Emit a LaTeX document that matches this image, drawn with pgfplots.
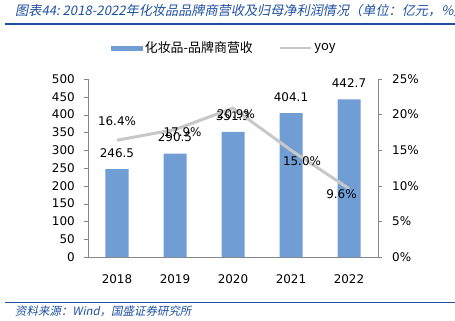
\documentclass[border=0pt]{standalone}
\usepackage{pgfplots}
\pgfplotsset{compat=1.18}
\usepackage{fontspec}
\setmainfont{DejaVu Sans}
\newfontfamily\cjk{Noto Sans CJK SC}
\newfontfamily\cjkit[FakeSlant=0.2]{Noto Sans CJK SC}
\definecolor{barblue}{RGB}{112,158,212}
\definecolor{linegray}{RGB}{200,200,200}
\definecolor{titleblue}{RGB}{30,80,160}
\definecolor{axgray}{RGB}{134,134,134}
\begin{document}
\begin{tikzpicture}
\useasboundingbox (0,0) rectangle (455bp,321bp);
% title and footer
\node[anchor=west, inner sep=0pt, text=titleblue, font=\cjkit\fontsize{13.2}{14}\selectfont] at (15bp,310bp) {图表44:\ 2018-2022年化妆品品牌商营收及归母净利润情况（单位：亿元，\%）};
\draw[titleblue, line width=1.8bp] (5bp,297bp) -- (455bp,297bp);
\draw[titleblue, line width=1.2bp] (5bp,18.7bp) -- (455bp,18.7bp);
\node[anchor=west, inner sep=0pt, text=titleblue, font=\cjkit\fontsize{11.5}{13}\selectfont] at (15bp,9.3bp) {资料来源：Wind，国盛证券研究所};

\begin{axis}[
  at={(88bp,64bp)}, anchor=south west,
  scale only axis, width=290bp, height=178bp,
  xmin=-0.5, xmax=4.5, ymin=0, ymax=500,
  ytick={0,50,...,500},
  xtick={0,1,2,3,4}, xticklabels={2018,2019,2020,2021,2022},
  extra x ticks={0.5,1.5,2.5,3.5}, extra x tick labels={},
  extra x tick style={major tick length=4bp, tick style={draw=axgray}},
  axis x line*=bottom, axis y line*=left,
  axis line style={-, draw=axgray, line width=0.8bp},
  x tick style={draw=none},
  y tick style={draw=axgray},
  tick align=outside, major tick length=4bp,
  ytick pos=left,
  /pgf/number format/assume math mode=true,
  ticklabel style={font=\fontsize{12}{12}\selectfont, text=black},
  xticklabel style={anchor=center, inner sep=0pt, yshift=-18bp},
  yticklabel style={anchor=east, inner sep=0pt, xshift=-9bp},
  every node near coord/.append style={font=\fontsize{12}{12}\selectfont, anchor=center, yshift=16bp, inner sep=0pt},
  clip=false,
]
\addplot[ybar, bar width=23bp, fill=barblue, draw=none,
  nodes near coords, point meta=explicit symbolic]
  coordinates {(0,246.5)[246.5] (1,290.5)[290.5] (2,351.3)[351.3] (3,404.1)[404.1] (4,442.7)[442.7]};
\end{axis}

\begin{axis}[
  at={(88bp,64bp)}, anchor=south west,
  scale only axis, width=290bp, height=178bp,
  xmin=-0.5, xmax=4.5, ymin=0, ymax=25,
  ytick={0,5,...,25},
  yticklabel={\pgfmathprintnumber{\tick}\%},
  axis x line=none, axis y line*=right,
  axis line style={-, draw=axgray, line width=0.8bp},
  y tick style={draw=axgray},
  tick align=outside, major tick length=4bp,
  /pgf/number format/assume math mode=true,
  ticklabel style={font=\fontsize{12}{12}\selectfont, text=black},
  yticklabel style={anchor=west, inner sep=0pt, xshift=10bp},
  clip=false,
  legend columns=2,
  legend style={at={(0.08,1.174)}, anchor=west, draw=none, fill=none,
    inner sep=0pt, font=\cjk\fontsize{13}{13}\selectfont,
    nodes={inner sep=2bp},
    /tikz/every even column/.append style={column sep=24bp}},
]
\addlegendimage{legend image code/.code={\fill[barblue] (0bp,-2.3bp) rectangle (31bp,2.3bp);}}
\addlegendentry{化妆品-品牌商营收}
\addplot[color=linegray, line width=3bp, mark=none,
  legend image code/.code={\draw[linegray, line width=2.5bp] (0bp,0bp) -- (31bp,0bp);}]
  coordinates {(0,16.4) (1,17.9) (2,20.9) (3,15.0) (4,9.6)};
\addlegendentry{yoy}
\addplot[draw=none, mark=none, forget plot, nodes near coords, point meta=explicit symbolic,
  every node near coord/.style={font=\fontsize{12}{12}\selectfont, anchor=center, inner sep=0pt}]
  coordinates {(0,19.1)[16.4\%] (1.13,17.6)[17.9\%] (2.05,20.04)[20.9\%] (3.19,13.4)[15.0\%] (3.87,8.85)[9.6\%]};
\end{axis}
\end{tikzpicture}
\end{document}
